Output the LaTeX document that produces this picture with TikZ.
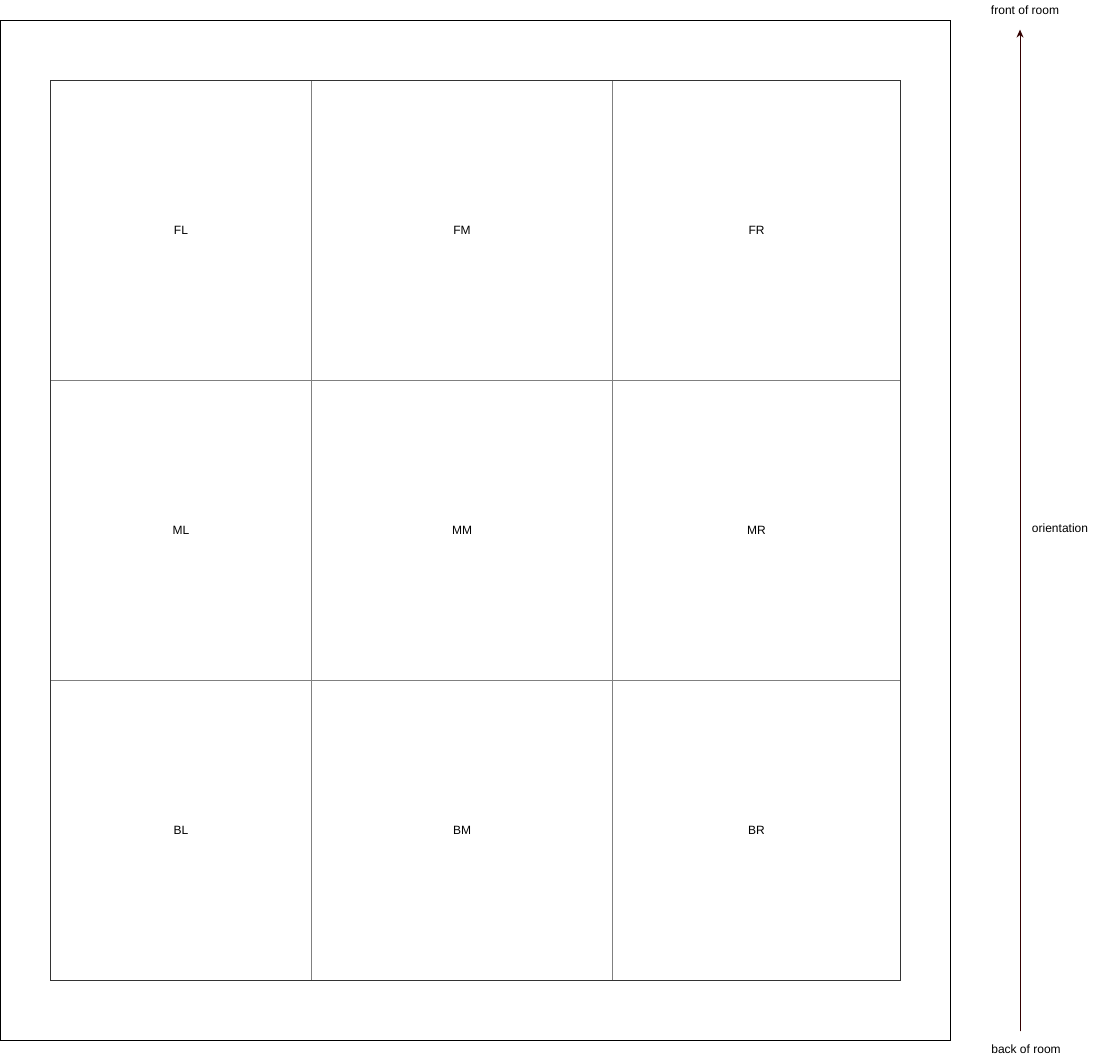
\documentclass[tikz,border=0pt]{standalone}
\usepackage{fontspec}
\setmainfont{Liberation Sans}
\usepackage{tikz}
\usetikzlibrary{arrows.meta, positioning}

\definecolor{gridgray}{HTML}{808080}
\definecolor{framedark}{HTML}{333333}
\definecolor{arrowbrown}{HTML}{330000}

\begin{document}
\begin{tikzpicture}[
  x=1pt, y=-1pt,
  node distance=0pt,
  cell/.style={draw=gridgray, line width=1pt, rectangle, outer sep=0pt, minimum height=300pt, font=\fontsize{12}{14}\selectfont},
  note/.style={inner sep=0pt, font=\fontsize{12}{14}\selectfont},
  arrow/.style={-{Stealth[length=8pt,width=7pt]}, line width=1pt, draw=arrowbrown, fill=arrowbrown}
]
\useasboundingbox (0,0) rectangle (1101,1061);

% room outline
\node[draw=black, line width=1pt, rectangle, outer sep=0pt, minimum width=950pt, minimum height=1020pt] (room) at (475,530) {};

% front row
\node[cell, minimum width=261pt] (fl) at (181,230) {FL};
\node[cell, minimum width=301pt] (fm) [right=of fl] {FM};
\node[cell, minimum width=288pt] (fr) [right=of fm] {FR};
% middle row
\node[cell, minimum width=261pt] (ml) [below=of fl] {ML};
\node[cell, minimum width=301pt] (mm) [right=of ml] {MM};
\node[cell, minimum width=288pt] (mr) [right=of mm] {MR};
% back row
\node[cell, minimum width=261pt] (bl) [below=of ml] {BL};
\node[cell, minimum width=301pt] (bm) [right=of bl] {BM};
\node[cell, minimum width=288pt] (br) [right=of bm] {BR};

\draw[framedark, line width=1pt] (fl.north west) rectangle (br.south east);

% orientation arrow
\node[note] (front) at (1025,10) {front of room};
\node[note] (back) at (1026,1049) {back of room};
\node[note] (orient) at (1060,528) {orientation};
\draw[arrow, shorten <=13pt, shorten >=15pt] (back.north -| 1020,0) -- (front.south -| 1020,0);
\end{tikzpicture}
\end{document}
